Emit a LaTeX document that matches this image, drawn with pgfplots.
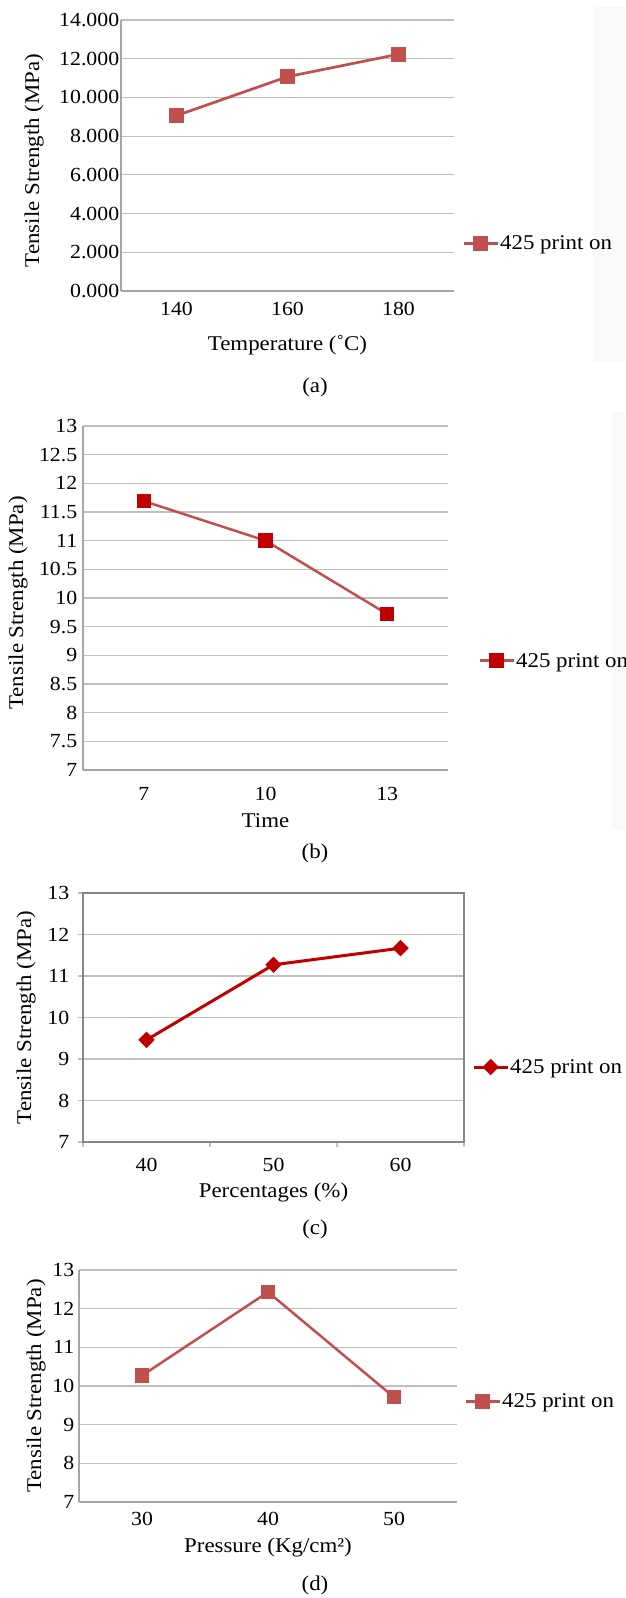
\documentclass[border=0pt]{standalone}
\usepackage{fontspec}
\setmainfont{Liberation Serif}[FakeStretch=1.09]
\usepackage{pgfplots}
\pgfplotsset{compat=1.18}
\definecolor{exred}{HTML}{C0504D}
\definecolor{dkred}{HTML}{C00000}
\definecolor{gridgray}{HTML}{BFBFBF}
\definecolor{axgray}{HTML}{A6A6A6}
\definecolor{boxgray}{HTML}{868686}
\newcommand\fT{\fontsize{20}{24}\selectfont}
\newcommand\fL{\fontsize{21}{25}\selectfont}
\pgfplotsset{
  panel/.style={
    scale only axis, anchor=south west,
    xmin=-0.5, xmax=2.5, xtick={0,1,2},
    major tick length=0pt,
    ymajorgrids, grid style={draw=gridgray, line width=1.2pt},
    axis x line*=bottom, axis y line*=left,
    axis line style={draw=axgray, line width=1.2pt, -},
    tick label style={font=\fT},
    /pgf/number format/assume math mode=true,
    legend style={draw=none, fill=none, font=\fL, anchor=west, inner sep=0pt, nodes={inner sep=1pt}},
    legend image code/.code={\draw[mark repeat=2,mark phase=2,##1,line width=3pt] plot coordinates {(0pt,0pt) (17pt,0pt) (34pt,0pt)};},
  },
  labs/.style={
    xlabel style={at={(axis description cs:0.5,0)}, anchor=center, font=\fL},
    ylabel style={at={(axis description cs:0,0.5)}, anchor=center, font=\fL},
  }
}
\begin{document}
\begin{tikzpicture}
\useasboundingbox (0pt,0pt) rectangle (625pt,1598pt);
\fill[gray!5] (594pt,1236pt) rectangle (625pt,1591pt);
\fill[gray!5] (612pt,768pt) rectangle (625pt,1186pt);

% (a)
\begin{axis}[panel, labs, at={(121pt,1307pt)}, width=333pt, height=271pt,
  ymin=0, ymax=14, ytick={0,2,...,14},
  yticklabel style={/pgf/number format/fixed, /pgf/number format/fixed zerofill, /pgf/number format/precision=3, xshift=1.7pt},
  xticklabels={140,160,180},
  xticklabel style={yshift=-7.6pt},
  xlabel={Temperature (˚C)}, xlabel style={yshift=-54pt},
  ylabel={Tensile Strength (MPa)}, ylabel style={yshift=87pt, xshift=-5pt},
  legend style={at={(axis description cs:1.024,0.177)}},
]
\addplot[exred, line width=2.7pt, mark=square*, mark size=6pt, mark options={solid, fill=exred}] coordinates {(0,9.06) (1,11.07) (2,12.23)};
\addlegendentry{425 print on}
\end{axis}
\node[font=\fL] at (315pt,1211pt) {(a)};

% (b)
\begin{axis}[panel, labs, at={(83pt,828pt)}, width=365pt, height=344pt,
  ymin=7, ymax=13, ytick={7,7.5,...,13},
  yticklabel style={xshift=-2.3pt},
  xticklabels={7,10,13},
  xticklabel style={yshift=-13.6pt},
  xlabel={Time}, xlabel style={yshift=-51pt},
  ylabel={Tensile Strength (MPa)}, ylabel style={yshift=65pt, xshift=-5pt},
  legend style={at={(axis description cs:1.082,0.317)}},
]
\addplot[exred, line width=2.5pt, mark=square*, mark size=6pt, mark options={solid, fill=dkred, draw=dkred}] coordinates {(0,11.69) (1,11.00) (2,9.72)};
\addlegendentry{425 print on}
\end{axis}
\node[font=\fL] at (315pt,745pt) {(b)};

% (c)
\begin{axis}[panel, at={(83pt,456pt)}, width=381pt, height=249pt,
  axis x line=box, axis y line=box,
  axis line style={draw=boxgray, line width=1.2pt, -},
  labs,
  ymin=7, ymax=13, ytick={7,8,...,13},
  xtick={-0.5,0.5,1.5,2.5}, xticklabels={},
  extra x ticks={0,1,2}, extra x tick labels={40,50,60},
  extra x tick style={major tick length=0pt, grid=none},
  tick align=outside, major tick length=5pt,
  xtick pos=bottom, ytick pos=left,
  tick style={draw=gridgray, line width=1.2pt},
  yticklabel style={xshift=-5.3pt},
  xticklabel style={yshift=-12.6pt},
  xlabel={Percentages (\%)}, xlabel style={yshift=-50pt},
  ylabel={Tensile Strength (MPa)}, ylabel style={yshift=57pt},
  legend style={at={(axis description cs:1.021,0.301)}},
]
\addplot[dkred, line width=3pt, mark=square*, mark size=4.3pt, mark options={solid, rotate=45, fill=dkred}] coordinates {(0,9.46) (1,11.27) (2,11.67)};
\addlegendentry{425 print on}
\end{axis}
\node[font=\fL] at (315pt,369pt) {(c)};

% (d)
\begin{axis}[panel, labs, at={(79pt,96pt)}, width=378pt, height=232pt,
  ymin=7, ymax=13, ytick={7,8,...,13},
  yticklabel style={xshift=-1.3pt},
  xticklabels={30,40,50},
  xticklabel style={yshift=-6.6pt},
  xlabel={Pressure (Kg/cm²)}, xlabel style={yshift=-45pt},
  ylabel={Tensile Strength (MPa)}, ylabel style={yshift=43pt},
  legend style={at={(axis description cs:1.0185,0.435)}},
]
\addplot[exred, line width=2.5pt, mark=square*, mark size=6pt, mark options={solid, fill=exred}] coordinates {(0,10.27) (1,12.43) (2,9.71)};
\addlegendentry{425 print on}
\end{axis}
\node[font=\fL] at (315pt,13pt) {(d)};
\end{tikzpicture}
\end{document}
